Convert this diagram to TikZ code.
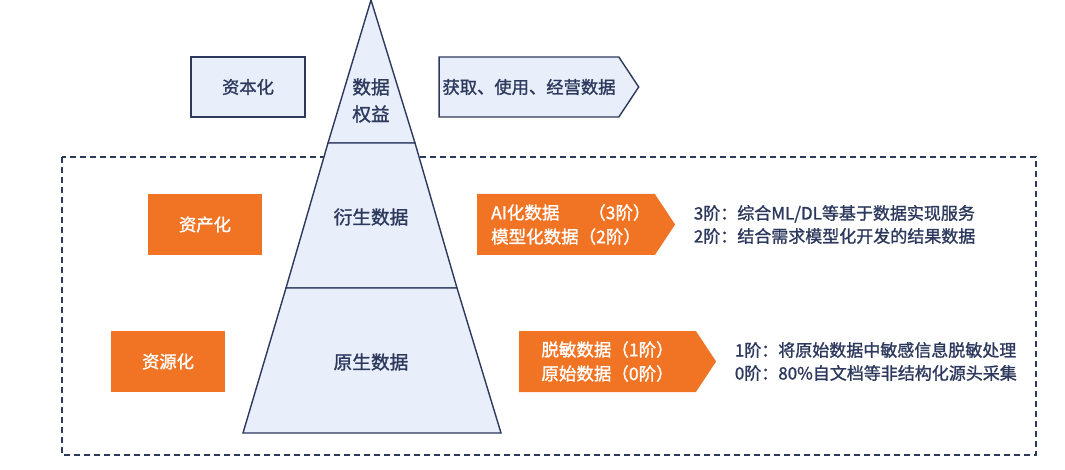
\documentclass[tikz,border=0pt]{standalone}
\usepackage{fontspec}
\setmainfont{Noto Sans CJK SC}[RawFeature={embolden=1.3}]
\usetikzlibrary{positioning,shapes.symbols}
\definecolor{navy}{RGB}{44,56,92}
\definecolor{paleblue}{RGB}{232,239,250}
\definecolor{brandorange}{RGB}{241,115,36}
\tikzset{
    level-box/.style = {draw=navy, fill=paleblue, line width=1.4pt, rectangle, minimum width=114pt, minimum height=60pt, text=navy, font=\fontsize{17.3}{20}\selectfont},
    stage-box/.style = {fill=brandorange, rectangle, minimum width=114pt, minimum height=61pt, text=white, font=\fontsize{17.3}{20}\selectfont},
    tier-arrow/.style = {signal, signal to=east, signal pointer angle=113, fill=brandorange, text=white, minimum height=61pt, align=left, font=\fontsize{17.5}{24}\selectfont},
    tier-note/.style = {text=navy, align=left, font=\fontsize{17}{23}\selectfont},
    pyramid/.style = {draw=navy, fill=paleblue, line width=1.4pt},
    pyramid-label/.style = {text=navy, align=center, font=\fontsize{18.7}{27}\selectfont},
}
\begin{document}
\begin{tikzpicture}[x=1pt, y=-1pt]
\useasboundingbox (0,0) rectangle (1065,470);
% dashed frame round the two lower tiers
\draw[navy, line width=1.4pt, dash pattern=on 6pt off 4pt] (62,157) rectangle (1036,455);
% pyramid
\draw[pyramid] (371,0) -- (415,143) -- (328,143) -- cycle;
\draw[pyramid] (328,143) -- (415,143) -- (457,288) -- (286,288) -- cycle;
\draw[pyramid] (286,288) -- (457,288) -- (501,433) -- (243,433) -- cycle;
\node[pyramid-label] (rights) at (371,100.5) {数据\\权益};
\node[pyramid-label] (derived) at (371,217) {衍生数据};
\node[pyramid-label] (native) at (371,362) {原生数据};
% left column
\node[level-box] (capital) at (248,87) {资本化};
\node[stage-box] (asset) at (205,224.5) {资产化};
\node[stage-box] (resource) at (168,361.5) {资源化};
% right column
\node[tier-arrow, draw=navy, fill=paleblue, text=navy, line width=1.4pt, minimum width=197pt, minimum height=60pt, font=\fontsize{17.3}{20}\selectfont] (usage) at (529,87) {获取、使用、经营数据};
\node[tier-arrow, minimum width=198pt] (ai) at (566,224.5) {\makebox[8.55em][l]{\makebox[5.55em][l]{AI化数据}（3阶）}\\模型化数据（2阶）};
\node[tier-arrow, minimum width=197pt] (masked) at (607.5,361.5) {脱敏数据（1阶）\\原始数据（0阶）};
\node[tier-note, right=15pt of ai] (aiNote) {3阶：综合ML/DL等基于数据实现服务\\2阶：结合需求模型化开发的结果数据};
\node[tier-note, right=15pt of masked] (maskedNote) {1阶：将原始数据中敏感信息脱敏处理\\0阶：80\%自文档等非结构化源头采集};
\end{tikzpicture}
\end{document}
